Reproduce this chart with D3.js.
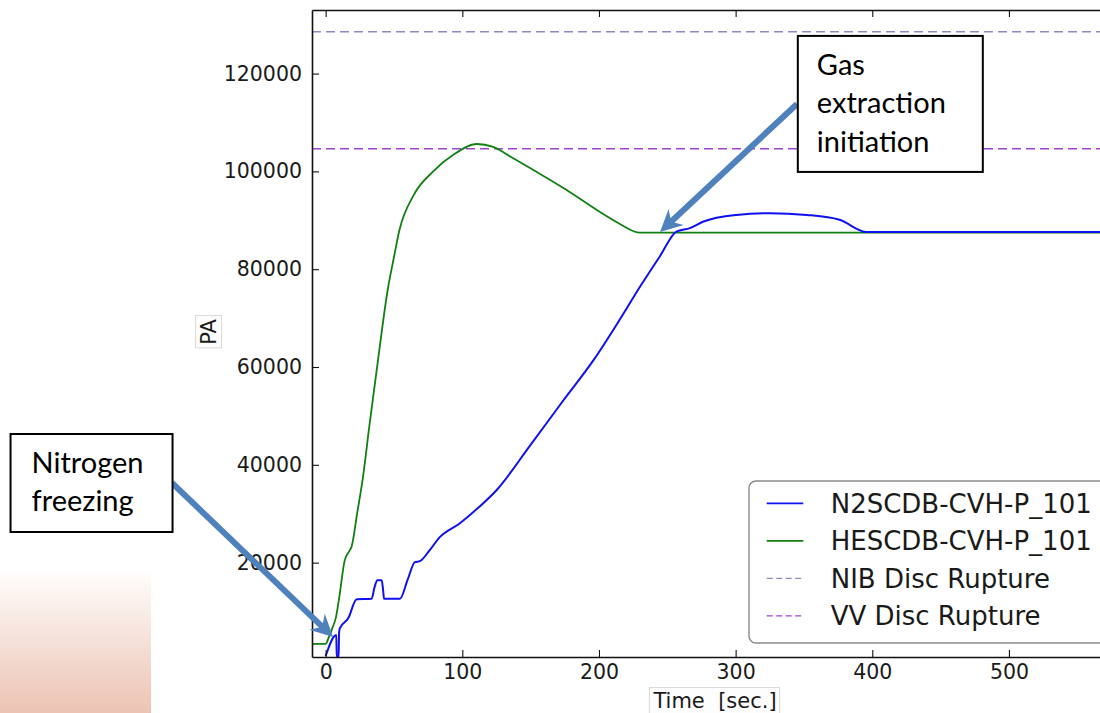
<!DOCTYPE html>
<html>
<head>
<meta charset="utf-8">
<script src="https://cdn.jsdelivr.net/npm/d3@7"></script>
<style>
body { margin: 0; background: #fff; }
svg { display: block; }
</style>
</head>
<body>
<div id="chart"></div>
<script>
// pressure curves (time in s, pressure in Pa)
var n2Time = [0, 7.8, 8.1, 9.5, 9.8, 10.4, 16.5, 22.7, 33.6, 35.8, 37.8, 41, 42, 42.7, 54.3, 60, 65.3, 68.9, 76, 83.5, 98, 112, 125, 149, 174, 196, 215, 230, 244.5, 256.7, 266.5, 276, 300.5, 325, 352, 376, 396, 600];
var n2Pres = [900, 5200, 700, 700, 5600, 6600, 8600, 12500, 12600, 15000, 16400, 16400, 14500, 12600, 12600, 16500, 20100, 20300, 22500, 25200, 28000, 31300, 34800, 43700, 53200, 61400, 69600, 76400, 82600, 87700, 88400, 89700, 91100, 91460, 91100, 90100, 87600, 87600];

var heTime = [-10, 0, 2, 5, 7.6, 10, 13.9, 17.6, 19, 23, 27.3, 32, 38.3, 45.4, 50, 54, 64.1, 78.7, 93.4, 110.5, 122.6, 136, 151.9, 176.3, 200.7, 215, 230, 600];
var hePres = [3400, 3400, 4500, 6700, 8900, 13000, 20400, 22500, 23300, 30000, 37500, 48000, 61400, 75800, 82500, 88000, 95000, 100000, 103400, 105600, 105000, 102900, 100300, 96200, 91700, 89300, 87470, 87470];

var seriesNames = ["N2SCDB-CVH-P_101", "HESCDB-CVH-P_101"];
var ruptureNames = ["NIB Disc Rupture", "VV Disc Rupture"];
var ruptureLevels = [128550, 104630];

var xTicks = [0, 100, 200, 300, 400, 500];
var yTicks = [20000, 40000, 60000, 80000, 100000, 120000];

// call-outs, anchored in data units
var noteLines = [["Gas", "extraction", "initiation"], ["Nitrogen", "freezing"]];
var noteBox = [[345.5, 127700], [-230.6, 46300]];
var noteTail = [[344.9, 113780], [-112.4, 36280]];
var noteTip = [[244.7, 87600], [5.4, 4790]];

var W = 1100, H = 713;
var svg = d3.select("#chart").append("svg").attr("width", W).attr("height", H);

var x = d3.scaleLinear().domain([-10, 600]).range([312, 1145.6]);
var y = d3.scaleLinear().domain([700, 133000]).range([657, 10]);

var defs = svg.append("defs");
var grad = defs.append("linearGradient").attr("id", "pink").attr("x1", 0).attr("y1", 0).attr("x2", 0).attr("y2", 1);
grad.append("stop").attr("offset", "0%").attr("stop-color", "#fffdfc");
grad.append("stop").attr("offset", "100%").attr("stop-color", "#ecc3b3");
defs.append("clipPath").attr("id", "plotclip").append("rect")
    .attr("x", x(-10)).attr("y", y(133000)).attr("width", W - x(-10)).attr("height", y(700) - y(133000));

// slide decoration bottom left
svg.append("rect").attr("x", 0).attr("y", 572).attr("width", 151).attr("height", H - 572).attr("fill", "url(#pink)");

var plot = svg.append("g").attr("clip-path", "url(#plotclip)");

// disc rupture levels
var dashColors = ["#8c8cc4", "#a042d0"];
plot.selectAll(".rupture").data(ruptureLevels).enter().append("line")
    .attr("x1", x(-10)).attr("x2", x(600))
    .attr("y1", function(d) { return y(d); })
    .attr("y2", function(d) { return y(d); })
    .attr("stroke", function(d, i) { return dashColors[i]; })
    .attr("stroke-width", 1.4)
    .attr("stroke-dasharray", "9,5");

var line = d3.line()
    .x(function(d) { return x(d[0]); })
    .y(function(d) { return y(d[1]); })
    .curve(d3.curveMonotoneX);

var heData = heTime.map(function(t, i) { return [t, hePres[i]]; });
var n2Data = n2Time.map(function(t, i) { return [t, n2Pres[i]]; });

plot.append("path").datum(heData).attr("d", line)
    .attr("fill", "none").attr("stroke", "#108010").attr("stroke-width", 1.8);
plot.append("path").datum(n2Data).attr("d", line)
    .attr("fill", "none").attr("stroke", "#1010f0").attr("stroke-width", 2);

// axes, ticks inward like matplotlib
var tickFont = "DejaVu Sans, sans-serif";
var yAxis = svg.append("g").attr("transform", "translate(" + x(-10) + ",0)")
    .call(d3.axisLeft(y).tickValues(yTicks).tickSizeInner(-7).tickSizeOuter(0).tickPadding(10).tickFormat(d3.format("d")));
var xAxis = svg.append("g").attr("transform", "translate(0," + y(700) + ")")
    .call(d3.axisBottom(x).tickValues(xTicks).tickSizeInner(-7).tickSizeOuter(0).tickPadding(7));
var xTop = svg.append("g").attr("transform", "translate(0," + y(133000) + ")")
    .call(d3.axisTop(x).tickValues(xTicks).tickSizeInner(-7).tickSizeOuter(0).tickFormat(""));

[yAxis, xAxis, xTop].forEach(function(a) {
  a.selectAll("path.domain").attr("stroke", "#111").attr("stroke-width", 1.6);
  a.selectAll(".tick line").attr("stroke", "#111").attr("stroke-width", 1.1);
  a.selectAll(".tick text").attr("font-family", tickFont).attr("font-size", "20.5px").attr("fill", "#1a1a1a");
});

// axis titles with their faint boxes
function boxedLabel(cx, cy, rot, txt) {
  var g = svg.append("g").attr("transform", "translate(" + cx + "," + cy + ") rotate(" + rot + ")");
  var t = g.append("text").attr("text-anchor", "middle").attr("dy", "0.36em")
      .attr("font-family", tickFont).attr("font-size", "21px").attr("fill", "#1a1a1a")
      .style("white-space", "pre").text(txt);
  var b = t.node().getBBox();
  g.insert("rect", "text").attr("x", b.x - 3).attr("y", b.y - 1).attr("width", b.width + 6).attr("height", b.height + 2)
      .attr("fill", "#fdfdfd").attr("stroke", "#d9d9d9").attr("stroke-width", 1);
}
boxedLabel(208, 332, -90, "PA");
boxedLabel(715, 700, 0, "Time  [sec.]");

// legend
var legend = svg.append("g").attr("transform", "translate(749,481)");
legend.append("rect").attr("width", 420).attr("height", 162).attr("rx", 7)
    .attr("fill", "#fff").attr("stroke", "#8a8a8a").attr("stroke-width", 1.4);
var legNames = seriesNames.concat(ruptureNames);
var legColors = ["#1010f0", "#108010"].concat(dashColors);
var legRows = legend.selectAll(".row").data(legNames).enter().append("g")
    .attr("transform", function(d, i) { return "translate(0," + (22.3 + i * 37.5) + ")"; });
legRows.append("line").attr("x1", 17.7).attr("x2", 54.3)
    .attr("stroke", function(d, i) { return legColors[i]; })
    .attr("stroke-width", function(d, i) { return i < 2 ? 1.8 : 1.3; })
    .attr("stroke-dasharray", function(d, i) { return i < 2 ? null : "6,3.5"; });
legRows.append("text").attr("x", 81.7).attr("dy", "0.36em")
    .attr("font-family", tickFont).attr("font-size", "26px").attr("fill", "#1a1a1a")
    .text(function(d) { return d; });

// call-out arrows
var arrowColor = "#4f81bd";
noteTail.forEach(function(tail, i) {
  var x0 = x(tail[0]), y0 = y(tail[1]);
  var x1 = x(noteTip[i][0]), y1 = y(noteTip[i][1]);
  var dx = x1 - x0, dy = y1 - y0, len = Math.sqrt(dx * dx + dy * dy);
  var ux = dx / len, uy = dy / len, px = -uy, py = ux;
  var headL = 22, headW = 11, notch = 15;
  svg.append("line").attr("x1", x0).attr("y1", y0)
      .attr("x2", x1 - ux * notch).attr("y2", y1 - uy * notch)
      .attr("stroke", arrowColor).attr("stroke-width", 6);
  var pts = [
    [x1, y1],
    [x1 - ux * headL + px * headW, y1 - uy * headL + py * headW],
    [x1 - ux * notch, y1 - uy * notch],
    [x1 - ux * headL - px * headW, y1 - uy * headL - py * headW]
  ];
  svg.append("polygon").attr("points", pts.map(function(p) { return p.join(","); }).join(" "))
      .attr("fill", arrowColor);
});

// call-out boxes
var boxSize = [[185, 136], [162, 98]];
noteBox.forEach(function(pos, i) {
  var g = svg.append("g").attr("transform", "translate(" + x(pos[0]) + "," + y(pos[1]) + ")");
  g.append("rect").attr("width", boxSize[i][0]).attr("height", boxSize[i][1])
      .attr("fill", "#fff").attr("stroke", "#000").attr("stroke-width", 2);
  g.selectAll("text").data(noteLines[i]).enter().append("text")
      .attr("x", i === 0 ? 19 : 21)
      .attr("y", function(d, j) { return 39 + j * 38.3; })
      .attr("font-family", "Lato, 'Open Sans', sans-serif").attr("font-size", "29px").attr("fill", "#000")
      .text(function(d) { return d; });
});
</script>
</body>
</html>
